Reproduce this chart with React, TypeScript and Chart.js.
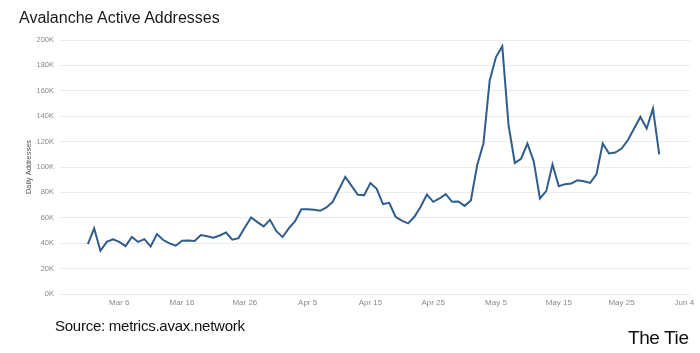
import React, { useEffect, useRef } from "react";
import { Chart, registerables } from "chart.js";

Chart.register(...registerables);

// Daily active addresses (thousands), one value per day starting Mar 1
const startDate = "Mar 1";
const dailyActiveAddressesK = [
  // March
  39.3, 51.6, 34, 41, 43, 41, 37.7, 45, 41, 43.2, 37.5, 47.2, 42.5, 39.8, 38, 41.9,
  42.2, 41.7, 46.4, 45.4, 44.3, 46.1, 48.5, 42.8, 44, 52.4, 60.3, 56.6, 53.2, 58.4, 49.6,
  // April
  44.8, 51.6, 57.4, 66.8, 66.8, 66.3, 65.5, 68.2, 72.6, 82.5, 92.2, 85.1, 78.1, 77.8, 87.3,
  82.8, 70.8, 71.8, 60.8, 57.7, 55.6, 60.8, 68.7, 78.4, 72.6, 75.2, 78.6, 72.6, 72.9, 69.4,
  // May
  73.7, 101.4, 118.5, 168.2, 186.6, 195, 132.9, 103.2, 106.5, 118.5, 104.8, 75.2, 81, 102,
  84.9, 86.5, 87, 89.6, 88.8, 87.5, 94.2, 118.5, 110.7, 111.4, 114.5, 121, 130.3, 139.4,
  130.3, 146, 110,
];

// x tick positions are day offsets from Mar 1
const xTickDays = [5, 15, 25, 35, 45, 55, 65, 75, 85, 95];
const xTickLabels = ["Mar 6", "Mar 16", "Mar 26", "Apr 5", "Apr 15", "Apr 25", "May 5", "May 15", "May 25", "Jun 4"];
const yTickValues = [0, 20000, 40000, 60000, 80000, 100000, 120000, 140000, 160000, 180000, 200000];
const yTickLabels = ["0K", "20K", "40K", "60K", "80K", "100K", "120K", "140K", "160K", "180K", "200K"];

const FONT = "'Liberation Sans', Arial, Helvetica, sans-serif";

export default function App() {
  const canvasRef = useRef<HTMLCanvasElement | null>(null);

  useEffect(() => {
    const canvas = canvasRef.current;
    if (!canvas) return;
    const points = dailyActiveAddressesK.map((v, i) => ({ x: i, y: v * 1000 }));
    const chart = new Chart(canvas, {
      type: "line",
      data: {
        datasets: [
          {
            label: "Daily Addresses",
            data: points,
            borderColor: "#2f5d8c",
            backgroundColor: "#2f5d8c",
            borderWidth: 2,
            pointRadius: 0,
            tension: 0,
            fill: false,
          },
        ],
      },
      options: {
        responsive: false,
        animation: false,
        devicePixelRatio: 1,
        layout: { padding: { left: 0, right: 10, top: 40, bottom: 0 } },
        plugins: {
          legend: { display: false },
          tooltip: { enabled: false },
          title: { display: false },
        },
        scales: {
          x: {
            type: "linear",
            min: -4.44,
            max: 95.9,
            afterFit: (scale: any) => {
              scale.height = 59;
            },
            afterBuildTicks: (scale: any) => {
              scale.ticks = xTickDays.map((d) => ({ value: d }));
            },
            grid: { display: false, drawTicks: false },
            border: { display: false },
            ticks: {
              autoSkip: false,
              maxRotation: 0,
              padding: 4,
              color: "#8a8a8a",
              font: { family: FONT, size: 8 },
              callback: (value: any) => {
                const idx = xTickDays.indexOf(Number(value));
                return idx >= 0 ? xTickLabels[idx] : "";
              },
            },
          },
          y: {
            type: "linear",
            min: 0,
            max: 200000,
            afterFit: (scale: any) => {
              scale.width = 60;
            },
            afterBuildTicks: (scale: any) => {
              scale.ticks = yTickValues.map((v) => ({ value: v }));
            },
            grid: { color: "#ececec", lineWidth: 1, drawTicks: false },
            border: { display: false },
            ticks: {
              padding: 6,
              color: "#8a8a8a",
              font: { family: FONT, size: 7.5 },
              callback: (value: any) => {
                const idx = yTickValues.indexOf(Number(value));
                return idx >= 0 ? yTickLabels[idx] : "";
              },
            },
            title: {
              display: true,
              text: "Daily Addresses",
              color: "#555555",
              font: { family: FONT, size: 7.5 },
              padding: { top: 24, bottom: 0 },
            },
          },
        },
      },
    });
    return () => chart.destroy();
  }, []);

  return (
    <div
      style={{
        position: "absolute",
        left: 0,
        top: 0,
        width: 700,
        height: 353,
        background: "#ffffff",
        overflow: "hidden",
        fontFamily: FONT,
      }}
    >
      <canvas ref={canvasRef} width={700} height={353} style={{ position: "absolute", left: 0, top: 0, width: 700, height: 353 }} />
      <div
        style={{
          position: "absolute",
          left: 19,
          top: 10,
          fontSize: 16,
          lineHeight: "16px",
          color: "#1a1a1a",
          whiteSpace: "nowrap",
        }}
      >
        Avalanche Active Addresses
      </div>
      <div
        style={{
          position: "absolute",
          left: 55,
          top: 318,
          fontSize: 15,
          lineHeight: "15px",
          letterSpacing: "-0.25px",
          color: "#111111",
          whiteSpace: "nowrap",
        }}
      >
        Source: metrics.avax.network
      </div>
      <div
        style={{
          position: "absolute",
          left: 628,
          top: 328,
          fontSize: 19,
          lineHeight: "19px",
          letterSpacing: "-0.4px",
          color: "#111111",
          whiteSpace: "nowrap",
        }}
      >
        The Tie
      </div>
    </div>
  );
}
